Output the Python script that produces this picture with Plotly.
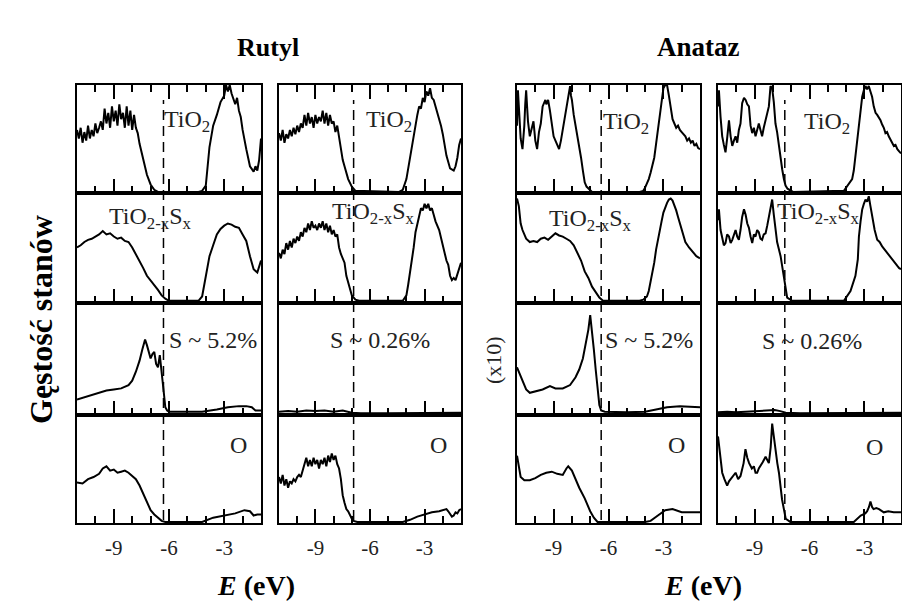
import plotly.graph_objects as go

W, H = 902, 609

# ---------------- data (energy in eV, normalised density of states) ----------------
# Rutyl, first column
RA_TIO2_E = [-11.0,-10.9,-10.8,-10.7,-10.6,-10.5,-10.4,-10.3,-10.2,-10.1,
             -10.0,-9.9,-9.8,-9.7,-9.6,-9.5,-9.4,-9.3,-9.2,-9.1,
             -9.0,-8.9,-8.8,-8.7,-8.6,-8.5,-8.4,-8.3,-8.2,-8.1,
             -8.0,-7.9,-7.8,-7.7,-7.6,-7.4,-7.2,-7.0,-6.8,-6.6,
             -4.4,-4.2,-4.0,-3.8,-3.6,-3.4,-3.2,-3.0,-2.9,-2.8,
             -2.7,-2.6,-2.5,-2.4,-2.3,-2.2,-2.1,-2.0,-1.8,-1.6,
             -1.4,-1.3,-1.2,-1.1,-1.0]
RA_TIO2_D = [.58,.50,.60,.46,.56,.48,.62,.50,.58,.52,
             .64,.55,.60,.66,.58,.78,.64,.74,.60,.80,
             .66,.76,.62,.82,.68,.74,.60,.80,.62,.76,
             .58,.72,.60,.55,.45,.30,.16,.07,.02,.00,
             .00,.01,.06,.42,.62,.72,.84,.90,1.0,.94,
             1.0,.92,.86,.82,.88,.76,.70,.58,.40,.24,
             .19,.24,.20,.30,.50]

RA_DOPED_E = [-11.0,-10.8,-10.6,-10.4,-10.2,-10.0,-9.8,-9.6,-9.4,-9.2,
              -9.0,-8.8,-8.6,-8.4,-8.2,-8.0,-7.8,-7.6,-7.4,-7.2,
              -7.0,-6.8,-6.6,-6.4,-6.2,-6.0,-4.4,-4.2,-4.0,-3.8,
              -3.6,-3.4,-3.2,-3.0,-2.8,-2.6,-2.4,-2.2,-2.0,-1.8,
              -1.6,-1.4,-1.2,-1.0]
RA_DOPED_D = [.50,.52,.55,.57,.58,.60,.62,.65,.62,.63,
              .60,.58,.59,.56,.55,.50,.44,.38,.31,.24,
              .20,.15,.11,.06,.03,.01,.01,.05,.24,.42,
              .52,.62,.67,.70,.72,.71,.69,.68,.62,.56,
              .42,.30,.27,.38]

RA_S_E = [-11.0,-10.6,-10.2,-9.8,-9.4,-9.0,-8.6,-8.2,-8.0,-7.8,
          -7.6,-7.45,-7.3,-7.2,-7.1,-7.0,-6.9,-6.8,-6.7,-6.6,
          -6.5,-6.4,-6.3,-6.2,-6.1,-6.0,-5.0,-4.2,-3.4,-2.8,
          -2.2,-1.8,-1.5,-1.3,-1.0]
RA_S_D = [.13,.15,.17,.19,.21,.22,.23,.26,.30,.38,
          .48,.58,.67,.62,.55,.50,.54,.56,.45,.42,
          .53,.40,.22,.06,.03,.02,.02,.02,.04,.06,
          .07,.07,.06,.03,.03]

RA_O_E = [-11.0,-10.7,-10.4,-10.1,-9.8,-9.6,-9.4,-9.2,-9.0,-8.8,
          -8.6,-8.4,-8.2,-8.0,-7.8,-7.6,-7.4,-7.2,-7.0,-6.8,
          -6.6,-6.4,-6.2,-4.2,-3.6,-3.0,-2.4,-1.9,-1.6,-1.4,
          -1.2,-1.0]
RA_O_D = [.37,.36,.40,.42,.45,.50,.52,.48,.49,.46,
          .47,.48,.46,.43,.40,.34,.26,.18,.11,.07,
          .04,.01,.00,.00,.04,.06,.08,.11,.10,.06,
          .07,.07]

# Rutyl, second column
RB_TIO2_E = [-11.0,-10.9,-10.8,-10.7,-10.6,-10.5,-10.4,-10.3,-10.2,-10.1,
             -10.0,-9.9,-9.8,-9.7,-9.6,-9.5,-9.4,-9.3,-9.2,-9.1,
             -9.0,-8.9,-8.8,-8.7,-8.6,-8.5,-8.4,-8.3,-8.2,-8.1,
             -8.0,-7.9,-7.8,-7.7,-7.6,-7.5,-7.4,-7.2,-7.0,-6.8,
             -4.4,-4.2,-4.0,-3.9,-3.8,-3.7,-3.6,-3.5,-3.4,-3.3,
             -3.2,-3.1,-3.0,-2.9,-2.8,-2.7,-2.6,-2.5,-2.4,-2.3,
             -2.2,-2.1,-2.0,-1.9,-1.8,-1.6,-1.4,-1.3,-1.2,-1.1,
             -1.0]
RB_TIO2_D = [.55,.48,.58,.46,.54,.50,.58,.52,.60,.54,
             .62,.56,.64,.60,.72,.62,.74,.64,.70,.60,
             .72,.64,.70,.66,.76,.64,.74,.62,.72,.64,
             .66,.56,.62,.50,.40,.30,.24,.12,.05,.01,
             .00,.02,.12,.22,.36,.46,.56,.66,.72,.80,
             .78,.88,.84,.94,.90,.97,.88,.86,.80,.76,
             .70,.62,.54,.44,.34,.22,.20,.24,.32,.44,
             .50]

RB_DOPED_E = [-11.0,-10.9,-10.8,-10.7,-10.6,-10.5,-10.4,-10.3,-10.2,-10.1,
              -10.0,-9.9,-9.8,-9.7,-9.6,-9.5,-9.4,-9.3,-9.2,-9.1,
              -9.0,-8.9,-8.8,-8.7,-8.6,-8.5,-8.4,-8.3,-8.2,-8.1,
              -8.0,-7.9,-7.8,-7.7,-7.6,-7.5,-7.4,-7.3,-7.2,-7.0,
              -6.8,-6.6,-4.2,-4.0,-3.9,-3.8,-3.7,-3.6,-3.5,-3.4,
              -3.3,-3.2,-3.1,-3.0,-2.9,-2.8,-2.7,-2.6,-2.5,-2.4,
              -2.2,-2.0,-1.9,-1.8,-1.7,-1.6,-1.5,-1.4,-1.3,-1.2,
              -1.1,-1.0]
RB_DOPED_D = [.45,.40,.48,.44,.54,.48,.56,.50,.58,.54,
              .60,.56,.64,.60,.68,.64,.72,.66,.74,.68,
              .70,.66,.72,.68,.74,.66,.72,.64,.70,.62,
              .66,.60,.62,.50,.44,.40,.36,.24,.18,.06,
              .02,.01,.01,.06,.16,.26,.40,.50,.64,.72,
              .80,.86,.84,.90,.86,.90,.84,.86,.80,.74,
              .66,.52,.44,.38,.34,.24,.20,.22,.20,.26,
              .32,.36]

RB_S_E = [-11.0,-10.5,-10.0,-9.5,-9.0,-8.5,-8.0,-7.5,-7.0,-6.5,-5.0,-3.5,-2.5,-1.5,-1.0]
RB_S_D = [.02,.025,.02,.03,.025,.03,.02,.03,.01,.005,.005,.005,.01,.01,.01]

RB_O_E = [-11.0,-10.9,-10.8,-10.7,-10.6,-10.5,-10.4,-10.3,-10.2,-10.1,
          -10.0,-9.9,-9.8,-9.7,-9.6,-9.5,-9.4,-9.3,-9.2,-9.1,
          -9.0,-8.9,-8.8,-8.7,-8.6,-8.5,-8.4,-8.3,-8.2,-8.1,
          -8.0,-7.9,-7.8,-7.7,-7.6,-7.5,-7.4,-7.3,-7.2,-7.1,
          -7.0,-6.9,-6.7,-4.2,-3.8,-3.4,-3.0,-2.6,-2.2,-1.9,
          -1.8,-1.7,-1.6,-1.5,-1.4,-1.3,-1.2,-1.1,-1.0]
RB_O_D = [.42,.36,.44,.34,.40,.32,.38,.36,.40,.38,
          .42,.44,.42,.48,.56,.60,.52,.58,.52,.60,
          .54,.58,.50,.58,.54,.60,.52,.62,.56,.64,
          .58,.62,.54,.50,.40,.25,.18,.12,.10,.06,
          .03,.01,.00,.00,.02,.05,.07,.09,.10,.11,
          .12,.10,.08,.05,.06,.09,.08,.11,.12]

# Anataz, first column
AA_TIO2_E = [-11.0,-10.95,-10.9,-10.85,-10.8,-10.7,-10.6,-10.55,-10.5,-10.45,
             -10.4,-10.3,-10.2,-10.1,-10.0,-9.9,-9.8,-9.7,-9.6,-9.5,
             -9.45,-9.4,-9.3,-9.2,-9.1,-9.0,-8.9,-8.8,-8.7,-8.6,
             -8.5,-8.4,-8.3,-8.2,-8.15,-8.1,-8.05,-8.0,-7.9,-7.8,
             -7.7,-7.6,-7.5,-7.4,-7.3,-7.2,-7.1,-7.0,-6.9,-4.3,
             -4.1,-4.0,-3.9,-3.8,-3.7,-3.6,-3.5,-3.4,-3.3,-3.2,
             -3.1,-3.0,-2.9,-2.8,-2.7,-2.6,-2.5,-2.4,-2.3,-2.2,
             -2.1,-2.0,-1.9,-1.8,-1.7,-1.6,-1.5,-1.4,-1.3,-1.2,
             -1.1,-1.0]
AA_TIO2_D = [.62,.95,.80,.62,.50,.40,.62,.82,.95,.80,
             .66,.52,.60,.66,.48,.40,.56,.64,.80,.84,
             .86,.82,.86,.76,.66,.52,.48,.44,.40,.48,
             .58,.66,.76,.86,.95,.99,.90,.86,.72,.62,
             .56,.45,.32,.20,.09,.05,.03,.01,.00,.00,
             .01,.04,.08,.12,.18,.24,.32,.45,.58,.73,
             .86,.97,1.0,1.0,.90,.80,.68,.64,.60,.62,
             .58,.56,.54,.52,.48,.50,.46,.48,.43,.45,
             .41,.40]

AA_DOPED_E = [-11.0,-10.9,-10.8,-10.7,-10.5,-10.3,-10.1,-9.9,-9.7,-9.5,
              -9.3,-9.1,-8.9,-8.7,-8.5,-8.3,-8.1,-7.9,-7.7,-7.5,
              -7.3,-7.1,-6.9,-6.7,-6.5,-6.3,-4.3,-4.1,-3.9,-3.8,
              -3.7,-3.6,-3.5,-3.4,-3.3,-3.2,-3.1,-3.0,-2.9,-2.8,
              -2.7,-2.6,-2.5,-2.4,-2.3,-2.2,-2.0,-1.8,-1.6,-1.4,
              -1.2,-1.0]
AA_DOPED_D = [.95,.88,.72,.66,.58,.55,.56,.55,.58,.59,
              .57,.60,.63,.61,.60,.58,.56,.52,.45,.38,
              .28,.22,.14,.09,.04,.01,.01,.02,.05,.10,
              .18,.25,.36,.48,.58,.66,.74,.82,.87,.91,
              .94,.95,.93,.89,.84,.78,.66,.55,.50,.46,
              .42,.40]

AA_S_E = [-11.0,-10.9,-10.7,-10.5,-10.3,-10.0,-9.6,-9.2,-8.9,-8.5,
          -8.1,-7.8,-7.6,-7.4,-7.25,-7.1,-7.0,-6.9,-6.8,-6.7,
          -6.6,-6.5,-6.4,-6.2,-5.0,-4.0,-3.4,-2.8,-2.1,-1.5,
          -1.0]
AA_S_D = [.42,.38,.29,.22,.19,.20,.22,.25,.23,.23,
          .26,.33,.40,.50,.62,.76,.89,.76,.58,.40,
          .20,.08,.03,.02,.015,.02,.04,.06,.07,.065,
          .06]

AA_O_E = [-11.0,-10.9,-10.8,-10.6,-10.3,-10.0,-9.7,-9.4,-9.1,-8.8,
          -8.5,-8.3,-8.2,-8.0,-7.8,-7.6,-7.3,-7.0,-6.8,-6.6,
          -4.0,-3.7,-3.3,-2.9,-2.5,-2.0,-1.5,-1.0]
AA_O_D = [.62,.50,.42,.39,.39,.41,.44,.46,.47,.45,
          .44,.50,.52,.48,.40,.32,.22,.10,.04,.00,
          .00,.01,.06,.11,.12,.09,.09,.09]

# Anataz, second column
AB_TIO2_E = [-11.0,-10.95,-10.86,-10.77,-10.68,-10.59,-10.5,-10.4,-10.31,-10.22,
             -10.13,-10.04,-9.95,-9.86,-9.77,-9.68,-9.58,-9.49,-9.4,-9.31,
             -9.22,-9.13,-9.04,-8.95,-8.86,-8.77,-8.68,-8.59,-8.5,-8.4,
             -8.31,-8.22,-8.13,-8.04,-7.95,-7.86,-7.77,-7.68,-7.59,-7.49,
             -7.4,-7.31,-7.2,-7.1,-6.9,-4.12,-4.03,-3.94,-3.8,-3.67,
             -3.58,-3.49,-3.4,-3.3,-3.21,-3.12,-3.03,-2.94,-2.85,-2.76,
             -2.67,-2.58,-2.49,-2.39,-2.3,-2.21,-2.12,-2.03,-1.94,-1.85,
             -1.76,-1.67,-1.58,-1.48,-1.39,-1.3,-1.2,-1.1,-1.0]
AB_TIO2_D = [.80,.95,.70,.52,.44,.37,.50,.67,.52,.43,
             .48,.52,.46,.58,.64,.83,.88,.86,.82,.80,
             .62,.55,.60,.52,.58,.64,.58,.52,.60,.67,
             .74,.80,.99,.97,.84,.64,.56,.43,.32,.21,
             .12,.06,.03,.02,.00,.01,.03,.06,.08,.12,
             .20,.34,.50,.67,.80,.89,.95,.99,.96,.99,
             .94,.89,.80,.74,.72,.70,.67,.63,.60,.55,
             .56,.52,.49,.46,.43,.44,.40,.38,.36]

AB_DOPED_E = [-11.0,-10.95,-10.86,-10.77,-10.68,-10.59,-10.5,-10.4,-10.31,-10.22,
              -10.13,-10.04,-9.95,-9.86,-9.77,-9.68,-9.58,-9.49,-9.4,-9.31,
              -9.22,-9.13,-9.04,-8.95,-8.86,-8.77,-8.68,-8.59,-8.5,-8.4,
              -8.31,-8.22,-8.13,-8.04,-7.95,-7.86,-7.77,-7.58,-7.49,-7.4,
              -7.22,-6.95,-4.12,-3.76,-3.49,-3.36,-3.3,-3.21,-3.12,-3.03,
              -2.94,-2.85,-2.76,-2.67,-2.58,-2.44,-2.3,-2.17,-2.03,-1.9,
              -1.76,-1.62,-1.48,-1.34,-1.2,-1.1,-1.0]
AB_DOPED_D = [.75,.85,.66,.60,.52,.54,.62,.60,.54,.57,
              .62,.66,.60,.57,.66,.78,.85,.80,.72,.68,
              .60,.54,.62,.60,.66,.64,.58,.57,.62,.63,
              .70,.78,.84,.94,.80,.66,.55,.42,.33,.21,
              .04,.01,.01,.10,.24,.39,.60,.74,.85,.90,
              .94,.92,.97,.88,.78,.66,.57,.55,.51,.48,
              .45,.42,.39,.36,.33,.31,.30]

AB_S_E = [-11.0,-10.5,-10.0,-9.5,-9.0,-8.5,-8.2,-7.9,-7.6,-7.3,-6.5,-5.0,-3.5,-2.5,-1.5,-1.0]
AB_S_D = [.015,.02,.015,.02,.02,.025,.03,.035,.025,.01,.005,.005,.005,.01,.01,.01]

AB_O_E = [-11.0,-10.95,-10.85,-10.77,-10.65,-10.5,-10.4,-10.3,-10.15,-10.04,
          -9.9,-9.77,-9.6,-9.5,-9.4,-9.3,-9.15,-9.04,-8.95,-8.86,
          -8.77,-8.68,-8.55,-8.4,-8.3,-8.22,-8.12,-8.04,-7.95,-7.86,
          -7.76,-7.67,-7.5,-7.3,-7.05,-3.58,-3.2,-2.95,-2.85,-2.75,
          -2.67,-2.58,-2.5,-2.35,-2.2,-1.94,-1.7,-1.4,-1.0]
AB_O_D = [.80,.71,.55,.46,.40,.34,.38,.40,.43,.46,
          .40,.43,.55,.68,.60,.55,.50,.52,.46,.46,
          .50,.52,.56,.61,.58,.55,.70,.92,.80,.65,
          .55,.46,.21,.03,.00,.00,.06,.08,.10,.14,
          .19,.14,.12,.13,.12,.09,.10,.09,.09]

# Fermi level (dashed line) of each column, eV
FERMI = [-6.3, -6.9, -6.4, -7.35]

ROW_LABELS = ["TiO<sub>2</sub>", "TiO<sub>2-x</sub>S<sub>x</sub>", None, "O"]
S_LABELS = ["S ~ 5.2%", "S ~ 0.26%", "S ~ 5.2%", "S ~ 0.26%"]
TICK_VALS = [-9, -6, -3]
TICK_TEXT = ["-9", "-6", "-3"]
X_RANGE = [-11, -1]

PANELS = [
    [(RA_TIO2_E, RA_TIO2_D), (RA_DOPED_E, RA_DOPED_D), (RA_S_E, RA_S_D), (RA_O_E, RA_O_D)],
    [(RB_TIO2_E, RB_TIO2_D), (RB_DOPED_E, RB_DOPED_D), (RB_S_E, RB_S_D), (RB_O_E, RB_O_D)],
    [(AA_TIO2_E, AA_TIO2_D), (AA_DOPED_E, AA_DOPED_D), (AA_S_E, AA_S_D), (AA_O_E, AA_O_D)],
    [(AB_TIO2_E, AB_TIO2_D), (AB_DOPED_E, AB_DOPED_D), (AB_S_E, AB_S_D), (AB_O_E, AB_O_D)],
]

# ---------------- layout geometry (pixels) ----------------
COL_PX = [(77, 261), (279, 461), (517, 700), (718, 901)]
ROW_PX = [(85, 193), (193, 303), (303, 415), (415, 523)]
LABEL_PX = [  # left-x, centre-y of panel label text
    [(162, 121), (107, 218), (167, 340), (228, 445)],
    [(364, 121), (330, 213), (328, 340), (428, 445)],
    [(601, 123), (547, 220), (603, 340), (666, 445)],
    [(802, 123), (775, 213), (760, 341), (864, 447)],
]

SERIF = "Liberation Serif, Times New Roman, serif"


def px(xp):
    return xp / W


def py(yp):
    return 1 - yp / H


fig = go.Figure()
layout = dict(
    width=W, height=H, margin=dict(l=0, r=0, t=0, b=0),
    paper_bgcolor="white", plot_bgcolor="white", showlegend=False,
    font=dict(family=SERIF, color="black"),
)
annotations = []
shapes = []

for c in range(4):
    for r in range(4):
        k = c * 4 + r + 1
        e, d = PANELS[c][r]
        assert len(e) == len(d), (c, r, len(e), len(d))
        xa = "x" if k == 1 else f"x{k}"
        ya = "y" if k == 1 else f"y{k}"
        fig.add_trace(go.Scatter(x=e, y=d, mode="lines", xaxis=xa, yaxis=ya,
                                 line=dict(color="black", width=2), hoverinfo="skip"))
        xname = "xaxis" if k == 1 else f"xaxis{k}"
        yname = "yaxis" if k == 1 else f"yaxis{k}"
        x0, x1 = COL_PX[c]
        y0, y1 = ROW_PX[r]
        layout[xname] = dict(
            domain=[px(x0), px(x1)], anchor=ya, range=X_RANGE,
            showline=True, linecolor="black", linewidth=2,
            mirror=("ticks" if r == 0 else True),
            ticks="inside", tickvals=TICK_VALS, ticktext=TICK_TEXT,
            ticklen=14, tickwidth=1.5, tickcolor="black",
            showticklabels=(r == 3), ticklabelstandoff=5,
            tickfont=dict(family=SERIF, size=21, color="#222"),
            minor=dict(ticks="inside", dtick=1, tick0=0, ticklen=7,
                       tickwidth=1.5, tickcolor="black", showgrid=False),
            showgrid=False, zeroline=False, fixedrange=True,
        )
        layout[yname] = dict(
            domain=[py(y1), py(y0)], anchor=xa, range=[-0.01, 1.0],
            showline=True, linecolor="black", linewidth=2, mirror=True,
            ticks="", showticklabels=False, showgrid=False, zeroline=False,
            fixedrange=True,
        )
        text = S_LABELS[c] if r == 2 else ROW_LABELS[r]
        lx, ly = LABEL_PX[c][r]
        annotations.append(dict(
            text=text, x=px(lx), y=py(ly), xref="paper", yref="paper",
            xanchor="left", yanchor="middle", showarrow=False,
            font=dict(family=SERIF, size=24, color="#222"),
        ))
    # dashed Fermi-level line across the whole column
    xa_top = "x" if c == 0 else f"x{c * 4 + 1}"
    shapes.append(dict(
        type="line", xref=xa_top, yref="paper",
        x0=FERMI[c], x1=FERMI[c], y0=py(520), y1=py(100),
        line=dict(color="black", width=1.5, dash="10px,6px"),
    ))


def centred(text, xp, yp, size, angle=0, color="black"):
    return dict(text=text, x=px(xp), y=py(yp), xref="paper", yref="paper",
                xanchor="center", yanchor="middle", textangle=angle, showarrow=False,
                font=dict(family=SERIF, size=size, color=color))


# column-group titles
annotations.append(centred("<b>Rutyl</b>", 268, 47, 26))
annotations.append(centred("<b>Anataz</b>", 698, 47, 27))
# axis titles
for cx in (256, 703):
    annotations.append(centred("<b><i>E</i> (eV)</b>", cx, 585, 28))
annotations.append(centred("<b>Gęstość stanów</b>", 41, 320, 32, angle=-90))
annotations.append(centred("(x10)", 493, 360, 22, angle=-90, color="#222"))

layout["annotations"] = annotations
layout["shapes"] = shapes
fig.update_layout(**layout)
fig.write_html("out.html")
